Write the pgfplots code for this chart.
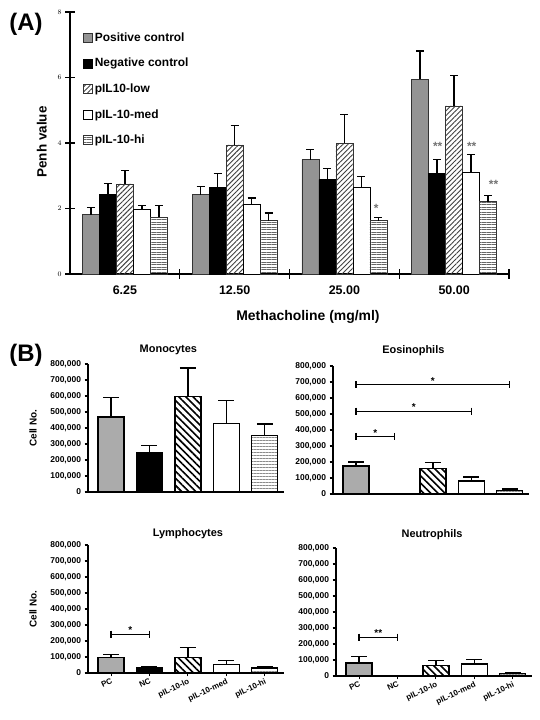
\documentclass[border=0pt]{standalone}
\usepackage{pgfplots}
\pgfplotsset{compat=1.18}
\usetikzlibrary{patterns.meta}
\usepackage{fontspec}
\setmainfont{Liberation Sans}
\newcommand{\fs}[1]{\fontsize{#1}{#1}\selectfont\bfseries}
\pgfplotsset{
  bstyle/.style={
    anchor=south west, scale only axis, width=196bp, height=128bp,
    ybar, bar width=26bp,
    xmin=-0.6, xmax=4.5, ymin=0, ymax=800000,
    axis lines*=left, axis line style={line width=1.3pt},
    ytick={0,100000,200000,300000,400000,500000,600000,700000,800000},
    scaled y ticks=false,
    yticklabel style={font=\fs{8.5}, /pgf/number format/.cd, fixed, 1000 sep={,}, assume math mode=true},
    xtick={0,1,2,3,4},
    tick align=outside, major tick length=3.5bp, tick style={line width=1.1pt, black},
    title style={font=\fs{11}, anchor=center},
    ylabel style={font=\fs{10}, at={(axis description cs:-0.28,0.5)}, anchor=center},
    error bars/y dir=plus, error bars/y explicit,
    error bars/error bar style={line width=1.3pt, black},
    error bars/error mark options={rotate=90, mark size=8bp, line width=1.3pt, black},
    clip=false,
  },
  bpc/.style={fill=black!33, draw=black, line width=1.4pt, bar shift=0pt},
  bnc/.style={fill=black, draw=black, line width=1.4pt, bar shift=0pt},
  blo/.style={draw=black, line width=1.4pt, pattern={Lines[angle=-45,distance=5bp,line width=1.6bp]}, pattern color=black, bar shift=0pt},
  bmed/.style={fill=white, draw=black, line width=1.4pt, bar shift=0pt},
  bhi/.style={draw=black, line width=1.4pt, pattern={Lines[angle=0,distance=3bp,line width=1bp]}, pattern color=black!45, bar shift=0pt},
  sig/.style={sharp plot, black, line width=1.2pt, mark=|, mark size=3.5bp, mark options={solid, line width=1.2pt}, bar shift=0pt, forget plot, error bars/y dir=none},
}
\begin{document}
\begin{tikzpicture}
\path[use as bounding box] (0,0) rectangle (540bp,720bp);
\node[font=\fs{24}] at (26bp,696bp) {(A)};
\node[font=\fs{24}] at (26bp,365bp) {(B)};

% ---------------- Panel A ----------------
\begin{axis}[
  at={(70bp,446bp)}, anchor=south west, scale only axis,
  width=439bp, height=262bp,
  ybar=0pt, bar width=17bp,
  xmin=-0.5, xmax=3.5, ymin=0, ymax=8,
  axis lines*=left,
  axis line style={line width=1.3pt},
  ytick={0,2,4,6,8},
  yticklabel style={font=\fs{7}},
  xtick={0.5,1.5,2.5,3.5}, xticklabels={},
  extra x ticks={0,1,2,3},
  extra x tick labels={6.25,12.50,25.00,50.00},
  extra x tick style={major tick length=0pt, tick label style={font=\fs{12.5}, yshift=-8bp}},
  tick align=center, major tick length=10bp,
  tick style={line width=1.3pt, black},
  ylabel={Penh value},
  ylabel style={font=\fs{13.5}, at={(axis description cs:-0.064,0.504)}, anchor=center},
  xlabel={Methacholine (mg/ml)},
  xlabel style={font=\fs{14}, at={(axis description cs:0.542,-0.164)}, anchor=center},
  error bars/y dir=plus, error bars/y explicit,
  error bars/error bar style={line width=1.3pt, black},
  error bars/error mark options={rotate=90, mark size=4bp, line width=1.3pt, black},
  legend style={at={(0.03,0.93)}, anchor=north west, draw=none, fill=none,
    font=\fs{12}, row sep=11.5bp, cells={anchor=west}, inner sep=0pt},
  legend image code/.code={\draw[#1, line width=0.5pt] (0bp,-4.5bp) rectangle (9bp,4.5bp);},
  clip=false,
]
\addplot[fill=black!42, draw=black!80, line width=0.6pt]
  coordinates {(0,1.81) +- (0,0.23) (1,2.42) +- (0,0.25) (2,3.49) +- (0,0.32) (3,5.94) +- (0,0.87)};
\addlegendentry{Positive control}
\addplot[fill=black, draw=black, line width=0.6pt]
  coordinates {(0,2.42) +- (0,0.35) (1,2.65) +- (0,0.41) (2,2.88) +- (0,0.35) (3,3.07) +- (0,0.43)};
\addlegendentry{Negative control}
\addplot[draw=black!80, line width=0.6pt, pattern={Lines[angle=45,distance=3.5bp,line width=0.9bp]}, pattern color=black!75]
  coordinates {(0,2.75) +- (0,0.40) (1,3.94) +- (0,0.59) (2,3.99) +- (0,0.88) (3,5.13) +- (0,0.94)};
\addlegendentry{pIL10-low}
\addplot[fill=white, draw=black, line width=0.6pt]
  coordinates {(0,1.98) +- (0,0.11) (1,2.13) +- (0,0.19) (2,2.64) +- (0,0.33) (3,3.10) +- (0,0.55)};
\addlegendentry{pIL-10-med}
\addplot[draw=black!80, line width=0.6pt, pattern={Lines[angle=0,distance=2.5bp,line width=1bp]}, pattern color=black!60]
  coordinates {(0,1.74) +- (0,0.36) (1,1.63) +- (0,0.23) (2,1.63) +- (0,0.10) (3,2.21) +- (0,0.18)};
\addlegendentry{pIL-10-hi}
\node[font=\fs{12}, text=black!55] at (axis cs:2.85,3.89) {**};
\node[font=\fs{12}, text=black!55] at (axis cs:3.16,3.89) {**};
\node[font=\fs{12}, text=black!55] at (axis cs:3.36,2.73) {**};
\node[font=\fs{12}, text=black!55] at (axis cs:2.29,2.0) {*};
\end{axis}

% ---------------- Monocytes ----------------
\begin{axis}[bstyle, at={(88bp,228bp)},
  title={Monocytes}, title style={at={(axis description cs:0.41,1.06)}},
  ylabel={Cell No.}, xticklabels={}, xtick style={draw=none}]
\addplot[bpc] coordinates {(0,469000) +- (0,121000)};
\addplot[bnc] coordinates {(1,245000) +- (0,44000)};
\addplot[blo] coordinates {(2,595000) +- (0,180000)};
\addplot[bmed] coordinates {(3,427000) +- (0,147000)};
\addplot[bhi] coordinates {(4,354000) +- (0,71000)};
\end{axis}

% ---------------- Eosinophils ----------------
\begin{axis}[bstyle, at={(333bp,226bp)},
  title={Eosinophils}, title style={at={(axis description cs:0.41,1.07)}},
  xticklabels={}, xtick style={draw=none}]
\addplot[bpc] coordinates {(0,174000) +- (0,26000)};
\addplot[bnc] coordinates {(1,0) +- (0,0)};
\addplot[blo] coordinates {(2,161000) +- (0,37000)};
\addplot[bmed] coordinates {(3,81000) +- (0,26000)};
\addplot[bhi] coordinates {(4,23000) +- (0,8000)};
\addplot[sig] coordinates {(0,360000) (1,360000)};
\addplot[sig] coordinates {(0,518000) (3,518000)};
\addplot[sig] coordinates {(0,683000) (4,683000)};
\node[font=\fs{10}, anchor=base] at (axis cs:0.5,362000) {*};
\node[font=\fs{10}, anchor=base] at (axis cs:1.5,520000) {*};
\node[font=\fs{10}, anchor=base] at (axis cs:2.0,685000) {*};
\end{axis}

% ---------------- Lymphocytes ----------------
\begin{axis}[bstyle, at={(88bp,47bp)},
  title={Lymphocytes}, title style={at={(axis description cs:0.51,1.045)}},
  ylabel={Cell No.},
  xticklabels={PC,NC,pIL-10-lo,pIL-10-med,pIL-10-hi},
  xticklabel style={font=\fs{8}, rotate=25, anchor=north east, inner sep=1pt}]
\addplot[bpc] coordinates {(0,98000) +- (0,18000)};
\addplot[bnc] coordinates {(1,33000) +- (0,4000)};
\addplot[blo] coordinates {(2,98000) +- (0,60000)};
\addplot[bmed] coordinates {(3,54000) +- (0,23000)};
\addplot[bhi] coordinates {(4,31000) +- (0,11000)};
\addplot[sig] coordinates {(0,243000) (1,243000)};
\node[font=\fs{10}, anchor=base] at (axis cs:0.5,245000) {*};
\end{axis}

% ---------------- Neutrophils ----------------
\begin{axis}[bstyle, at={(336bp,44bp)},
  title={Neutrophils}, title style={at={(axis description cs:0.49,1.06)}},
  xticklabels={PC,NC,pIL-10-lo,pIL-10-med,pIL-10-hi},
  xticklabel style={font=\fs{8}, rotate=25, anchor=north east, inner sep=1pt}]
\addplot[bpc] coordinates {(0,82000) +- (0,38000)};
\addplot[bnc] coordinates {(1,0) +- (0,0)};
\addplot[blo] coordinates {(2,65000) +- (0,33000)};
\addplot[bmed] coordinates {(3,76000) +- (0,28000)};
\addplot[bhi] coordinates {(4,14000) +- (0,8000)};
\addplot[sig] coordinates {(0,243000) (1,243000)};
\node[font=\fs{10}, anchor=base] at (axis cs:0.5,245000) {**};
\end{axis}
\end{tikzpicture}
\end{document}
